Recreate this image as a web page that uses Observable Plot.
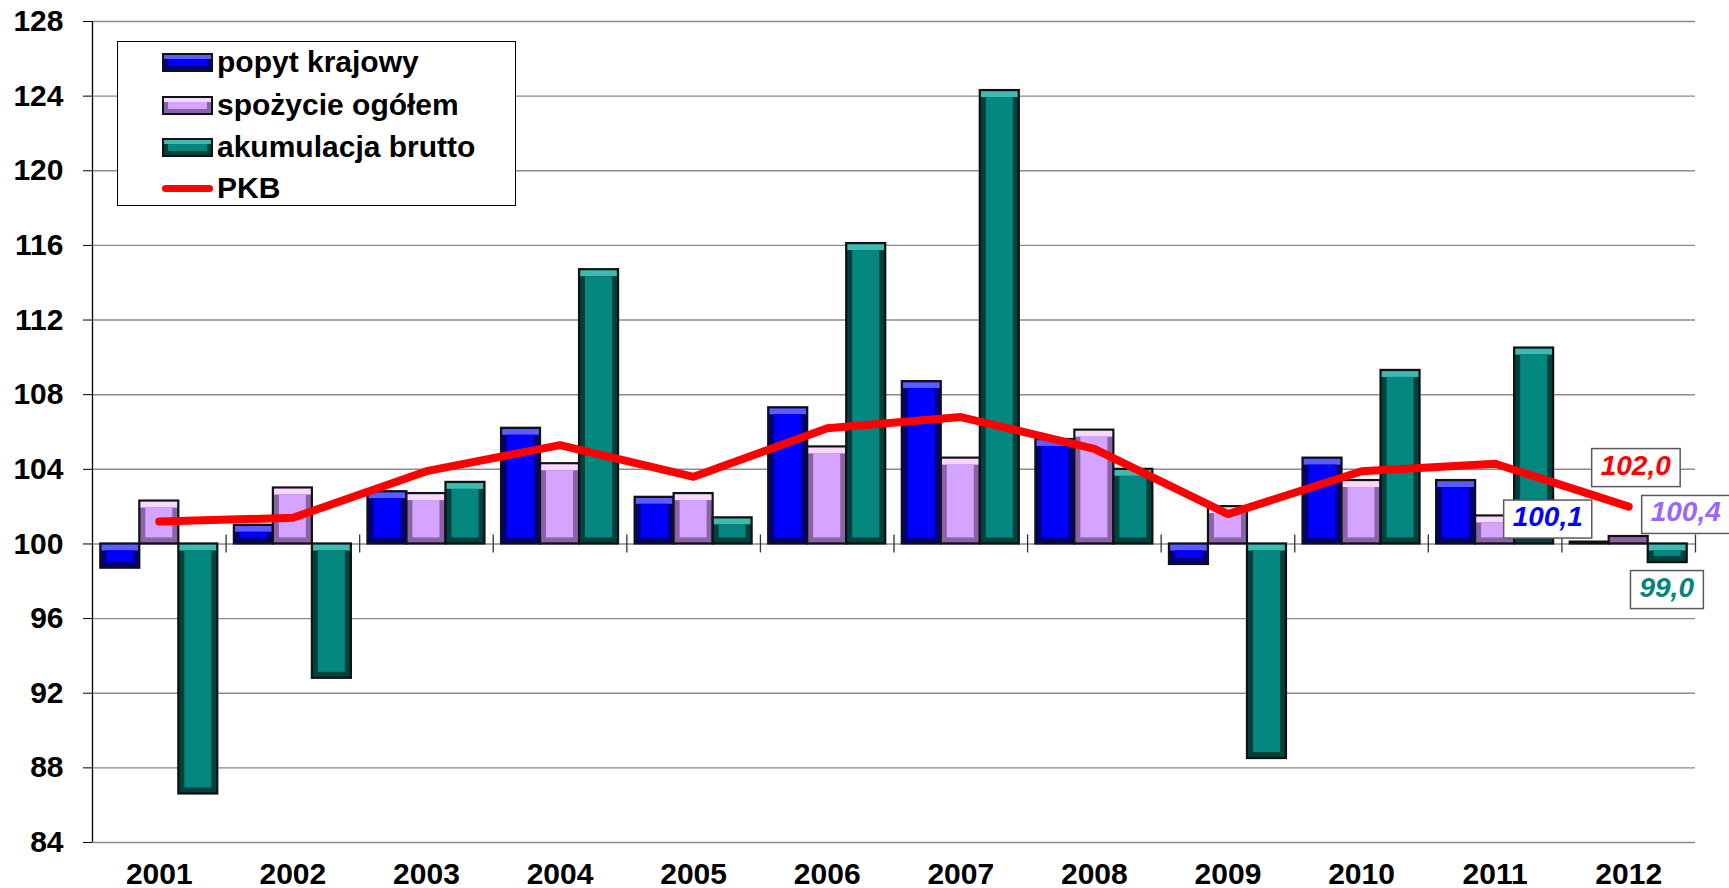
<!DOCTYPE html>
<html>
<head>
<meta charset="utf-8">
<script src="https://cdn.jsdelivr.net/npm/d3@7"></script>
<script src="https://cdn.jsdelivr.net/npm/@observablehq/plot@0.6"></script>
<style>
html,body{margin:0;padding:0;background:#fff;overflow:hidden;}
#wrap{position:relative;width:1729px;height:888px;font-family:"Liberation Sans",Arial,Helvetica,sans-serif;}
#wrap svg{display:block;}
#legend{position:absolute;left:117px;top:41px;width:399px;height:165px;border:1.5px solid #000;background:#fff;box-sizing:border-box;}
.row{position:absolute;left:44px;height:42px;display:flex;align-items:center;font-weight:bold;font-size:30px;color:#000;white-space:nowrap;}
.sw{width:51px;height:19px;box-sizing:border-box;border:2px solid #111;margin-right:4px;}
.ln{width:51px;height:7px;border-radius:4px;background:#ff0000;margin-right:4px;}
</style>
</head>
<body>
<div id="wrap"></div>
<script>
// ---- data ----
const years = ["2001","2002","2003","2004","2005","2006","2007","2008","2009","2010","2011","2012"];
const seriesNames = ["popyt krajowy","spożycie ogółem","akumulacja brutto"];
const popytKrajowy     = [98.7, 101.0, 102.8, 106.2, 102.5, 107.3, 108.7, 105.6, 98.9, 104.6, 103.4, 100.1];
const spozycieOgolem   = [102.3, 103.0, 102.7, 104.3, 102.7, 105.2, 104.6, 106.1, 102.0, 103.4, 101.5, 100.4];
const akumulacjaBrutto = [86.6, 92.8, 103.3, 114.7, 101.4, 116.1, 124.3, 104.0, 88.5, 109.3, 110.5, 99.0];
const pkb              = [101.2, 101.4, 103.9, 105.3, 103.6, 106.2, 106.8, 105.1, 101.6, 103.9, 104.3, 102.0];
const yTicks = [84, 88, 92, 96, 100, 104, 108, 112, 116, 120, 124, 128];
const baseline = 100;

// ---- styles ----
const mainC  = ["#0000ff", "#d4a4ff", "#03877f"];
const darkC  = ["#00007a", "#8a62a8", "#00403d"];
const lightC = ["#5c5cff", "#f7d9ff", "#3fbab2"];

const W = 1729, H = 888, ML = 92, MR = 34, MT = 21, MB = 46;
const PI = 0.124;
const step = (W - ML - MR) / years.length;
const bw = step * (1 - PI);
const sub = bw / 3;

const seriesValues = [popytKrajowy, spozycieOgolem, akumulacjaBrutto];
const fmt = v => v.toFixed(1).replace(".", ",");

const barMarks = [];
seriesValues.forEach((vals, i) => {
  const rows = years.map((y, j) => ({year: y, value: vals[j], top: Math.max(vals[j], baseline), h: Math.abs(vals[j] - baseline)}));
  const L = i * sub, R = (2 - i) * sub;
  barMarks.push(Plot.barY(rows, {x: "year", y1: () => baseline, y2: "value", insetLeft: L, insetRight: R,
    fill: darkC[i], stroke: "#111", strokeWidth: 2.2}));
  barMarks.push(Plot.barY(rows.filter(d => d.h > 0.8), {x: "year", y1: "top", y2: "top", insetTop: 1.2, insetBottom: -7,
    insetLeft: L + 1.2, insetRight: R + 1.2, fill: lightC[i]}));
  barMarks.push(Plot.barY(rows.filter(d => d.h > 0.8), {x: "year", y1: () => baseline, y2: "value",
    insetLeft: L + 6, insetRight: R + 6, insetTop: 7, insetBottom: 6, fill: mainC[i]}));
});

const pkbRows = years.map((y, j) => ({year: y, value: pkb[j]}));
const last = years.length - 1;
const lastYear = years[last];

const chart = Plot.plot({
  width: W, height: H,
  marginLeft: ML, marginRight: MR, marginTop: MT, marginBottom: MB,
  style: {fontFamily: "'Liberation Sans', Arial, Helvetica, sans-serif", background: "#fff", overflow: "visible"},
  x: {type: "band", domain: years, paddingInner: PI, paddingOuter: PI / 2, round: false, label: null},
  y: {domain: [84, 128], label: null},
  marks: [
    Plot.gridY({ticks: yTicks, stroke: "#8c8c8c", strokeOpacity: 1, strokeWidth: 1.4}),
    Plot.axisY({ticks: yTicks, tickSize: 9, tickPadding: 20, fontSize: 30, fontWeight: "bold", stroke: "#000", fill: "#000", label: null}),
    Plot.axisX({tickSize: 0, tickPadding: 20, fontSize: 30, fontWeight: "bold", fill: "#000", label: null}),
    Plot.ruleX([years[0]], {x: d => d, dx: -step / 2, stroke: "#000", strokeWidth: 1.3}),
    Plot.ruleX(years, {x: d => d, dx: step / 2, y1: () => baseline, y2: () => baseline, insetTop: -9, insetBottom: -9, stroke: "#333", strokeWidth: 1.3}),
    ...barMarks,
    Plot.line(pkbRows, {x: "year", y: "value", stroke: "#ff0000", strokeWidth: 8, strokeLinecap: "round", strokeLinejoin: "round"}),
    Plot.text([{year: lastYear, value: pkb[last]}], {x: "year", y: "value", text: d => fmt(d.value), dx: 7, dy: -41,
      fill: "#ff0000", fontSize: 28, fontWeight: "bold", fontStyle: "italic"}),
    Plot.text([{year: lastYear, value: popytKrajowy[last]}], {x: "year", y: "value", text: d => fmt(d.value), dx: -81, dy: -25,
      fill: "#0000ff", fontSize: 28, fontWeight: "bold", fontStyle: "italic"}),
    Plot.text([{year: lastYear, value: spozycieOgolem[last]}], {x: "year", y: "value", text: d => fmt(d.value), dx: 57, dy: -24,
      fill: "#9966ff", fontSize: 28, fontWeight: "bold", fontStyle: "italic"}),
    Plot.text([{year: lastYear, value: akumulacjaBrutto[last]}], {x: "year", y: "value", text: d => fmt(d.value), dx: 38, dy: 25,
      fill: "#00847c", fontSize: 28, fontWeight: "bold", fontStyle: "italic"})
  ]
});

const wrap = document.getElementById("wrap");
wrap.append(chart);

// boxes behind value labels
chart.querySelectorAll('g[aria-label="text"] text').forEach(t => {
  const b = t.getBBox();
  const r = document.createElementNS("http://www.w3.org/2000/svg", "rect");
  r.setAttribute("x", b.x - 9);
  r.setAttribute("y", b.y - 1);
  r.setAttribute("width", b.width + 18);
  r.setAttribute("height", b.height + 7);
  r.setAttribute("fill", "#fff");
  r.setAttribute("stroke", "#5a5a5a");
  r.setAttribute("stroke-width", "1.5");
  const tr = t.getAttribute("transform");
  if (tr) r.setAttribute("transform", tr);
  t.parentNode.insertBefore(r, t);
});

// legend
const legend = document.createElement("div");
legend.id = "legend";
const rowTops = [-1, 42, 84, 125];
seriesNames.forEach((name, i) => {
  const row = document.createElement("div");
  row.className = "row";
  row.style.top = rowTops[i] + "px";
  const sw = document.createElement("div");
  sw.className = "sw";
  sw.style.background = mainC[i];
  sw.style.boxShadow = `inset 0 4px 0 ${lightC[i]}, inset 0 -4px 0 ${darkC[i]}, inset 4px 0 0 ${darkC[i]}, inset -4px 0 0 ${darkC[i]}`;
  row.append(sw, document.createTextNode(name));
  legend.append(row);
});
const prow = document.createElement("div");
prow.className = "row";
prow.style.top = rowTops[3] + "px";
const ln = document.createElement("div");
ln.className = "ln";
prow.append(ln, document.createTextNode("PKB"));
legend.append(prow);
wrap.append(legend);
</script>
</body>
</html>
